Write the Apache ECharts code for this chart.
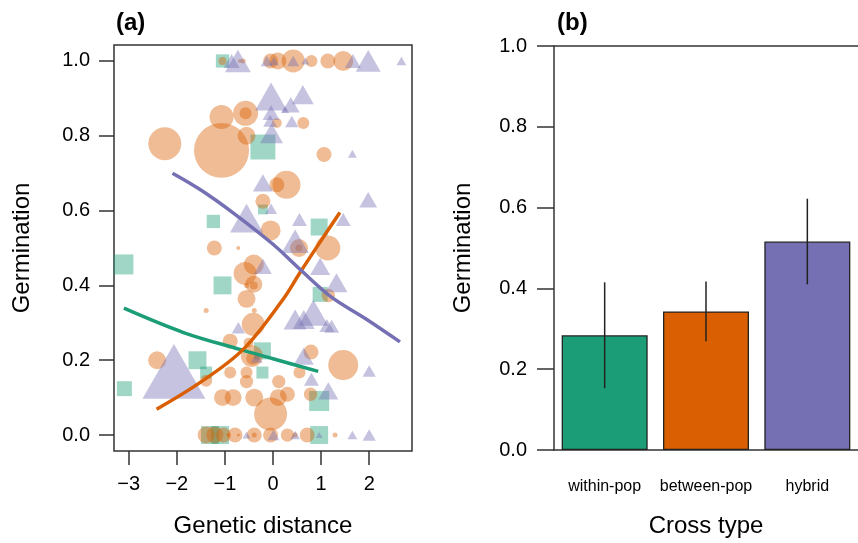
<!DOCTYPE html>
<html>
<head>
<meta charset="utf-8">
<script src="https://cdn.jsdelivr.net/npm/echarts@6/dist/echarts.min.js"></script>
<style>
html, body { margin: 0; padding: 0; background: #fff; }
#chartmain { width: 858px; height: 543px; }
</style>
</head>
<body>
<div id="chartmain"></div>
<script>
// panel (a): crosses by genetic distance, n = number of seeds (sets point size)
var withinX = [-1.05, -0.21, -0.21, -1.24, 0.96, -3.11, -1.05, 0.98, -0.22, -1.57, -1.39, -0.22, -3.09, 0.96, -1.31, -1.10, 0.96];
var withinY = [1.0, 0.77, 0.603, 0.571, 0.556, 0.456, 0.40, 0.376, 0.225, 0.2, 0.167, 0.167, 0.124, 0.091, 0.0, 0.0, 0.0];
var withinN = [11, 39, 6, 11, 18, 25, 20, 14, 18, 20, 9, 9, 14, 25, 20, 20, 20];

var betweenX = [-1.05, -0.69, -0.62, -0.05, 0.10, 0.42, 0.80, 1.14, 1.46,
    -0.57, -0.57, -1.07, 0.08, 0.63, -0.55, -2.25, -1.07, 1.06,
    0.28, 0.08, -0.21, -0.05, 0.54, 0.54, 1.14, -1.22, -0.72, -0.40, -0.58, -0.40, -0.40, -0.55, 1.15, -0.55, -1.39, -0.39,
    -0.41, -0.89, -0.51, -0.44, -0.42, 0.79, -2.41, -1.39, -0.89, -0.55, -0.55, 0.12, 0.55, 1.46, -1.05, -0.83, -0.39, 0.11, 0.30, 0.78, -0.05,
    -1.39, -1.21, -1.03, -0.93, -0.79, -0.72, -0.39, -0.39, -0.05, 0.30, 0.46, 0.71, 1.29];
var betweenY = [1.0, 1.0, 1.0, 1.0, 1.0, 1.0, 1.0, 1.0, 1.0,
    0.86, 0.86, 0.85, 0.834, 0.834, 0.80, 0.779, 0.761, 0.75,
    0.669, 0.669, 0.625, 0.547, 0.50, 0.50, 0.50, 0.50, 0.50, 0.456, 0.432, 0.403, 0.40, 0.40, 0.373, 0.364, 0.333, 0.333,
    0.296, 0.251, 0.247, 0.211, 0.205, 0.222, 0.2, 0.145, 0.167, 0.167, 0.143, 0.143, 0.167, 0.187, 0.10, 0.10, 0.10, 0.10, 0.109, 0.109, 0.056,
    0.0, 0.0, 0.0, 0.0, 0.0, 0.0, 0.0, 0.0, 0.0, 0.0, 0.0, 0.0, 0.0];
var betweenN = [4, 1, 1.6, 14, 18, 33, 9, 14, 25,
    39, 9, 36, 6, 9, 20, 68, 189, 14,
    49, 14, 14, 25, 20, 3, 39, 14, 1, 25, 33, 18, 4, 1.6, 11, 20, 1.6, 1.6,
    33, 14, 6, 30, 11, 14, 20, 9, 9, 9, 11, 11, 9, 56, 18, 18, 20, 18, 14, 11, 68,
    18, 18, 14, 1, 14, 0.6, 14, 1.6, 14, 11, 1.6, 14, 1.6];

var hybridX = [-0.86, -0.73, -0.13, 0.02, 0.42, 0.67, 1.66, 1.98, 2.67,
    -0.04, 0.62, 0.37, 0.25, -0.04, -0.06, 0.39, -0.03, 1.65,
    -0.21, 1.98, -0.04, -0.55, 0.55, 1.46, 0.46, -0.21, 0.98, 1.32,
    0.84, 0.46, 0.64, 1.12, 1.22, -0.72, -0.34, 0.64, -2.06, 0.80, 2.00, 1.15,
    -0.55, 0.01, 0.46, 0.96, 1.65, 2.00];
var hybridY = [1.0, 1.0, 1.0, 1.0, 1.0, 1.0, 1.0, 1.0, 1.0,
    0.905, 0.91, 0.883, 0.87, 0.862, 0.84, 0.838, 0.807, 0.752,
    0.674, 0.629, 0.605, 0.58, 0.576, 0.576, 0.518, 0.451, 0.451, 0.407,
    0.327, 0.309, 0.309, 0.293, 0.291, 0.287, 0.207, 0.211, 0.17, 0.149, 0.171, 0.118,
    0.0, 0.0, 0.0, 0.0, 0.0, 0.0];
var hybridN = [16, 42, 9, 6, 9, 4, 16, 39, 6,
    64, 30, 20, 4, 18, 12, 11, 33, 5,
    25, 20, 9, 68, 14, 14, 46, 20, 25, 30,
    56, 33, 30, 14, 14, 11, 9, 25, 248, 14, 11, 25,
    4, 9, 6, 3, 6, 11];

// fitted curves
var fitWithinX = [-3.10, -1.86, -0.69, 0.00, 0.94];
var fitWithinY = [0.339, 0.274, 0.229, 0.204, 0.170];
var fitBetweenX = [-2.42, -1.52, -0.62, 0.21, 0.56, 1.00, 1.39];
var fitBetweenY = [0.069, 0.140, 0.229, 0.363, 0.434, 0.520, 0.595];
var fitHybridX = [-2.09, -1.50, -0.83, 0.00, 0.56, 1.20, 1.95, 2.64];
var fitHybridY = [0.700, 0.655, 0.594, 0.510, 0.443, 0.370, 0.309, 0.249];

var distTicks = [-3, -2, -1, 0, 1, 2];
var germTicks = [0, 0.2, 0.4, 0.6, 0.8, 1.0];

// panel (b): mean germination by cross type
var crossTypes = ['within-pop', 'between-pop', 'hybrid'];
var meanGerm = [0.284, 0.343, 0.516];
var lowerCI = [0.153, 0.269, 0.410];
var upperCI = [0.415, 0.417, 0.622];

var colors = ['#1b9e77', '#d95f02', '#7570b3'];
var font = 'Liberation Sans, Arial, sans-serif';

function pairs(xs, ys, ns) {
    var out = [];
    for (var i = 0; i < xs.length; i++) {
        out.push(ns ? [xs[i], ys[i], ns[i]] : [xs[i], ys[i]]);
    }
    return out;
}
function dotSize(v) { return 4 * Math.sqrt(v[2]); }
function triSize(v) { var w = 4 * Math.sqrt(v[2]); return [w, w * 0.87]; }
function minus(v) { return String(v).replace('-', '\u2212'); }

var axisText = { color: '#000', fontFamily: font, fontSize: 20 };
var nameText = { color: '#000', fontFamily: font, fontSize: 24 };

function scatter(name, data, symbol, size, color) {
    return {
        name: name, type: 'scatter', xAxisIndex: 0, yAxisIndex: 0,
        data: data, symbol: symbol, symbolSize: size,
        itemStyle: { color: color, opacity: 0.42 },
        emphasis: { disabled: true }, silent: true, z: 2
    };
}
function fitLine(data, color) {
    return {
        type: 'line', xAxisIndex: 0, yAxisIndex: 0, data: data,
        smooth: 0.35, showSymbol: false, symbol: 'none',
        lineStyle: { color: color, width: 3.5 }, silent: true, z: 5
    };
}

var option = {
    animation: false,
    backgroundColor: '#fff',
    title: [
        { text: '(a)', left: 111, top: 6, textStyle: { fontFamily: font, fontSize: 24, fontWeight: 'bold', color: '#000' } },
        { text: '(b)', left: 552, top: 6, textStyle: { fontFamily: font, fontSize: 24, fontWeight: 'bold', color: '#000' } }
    ],
    grid: [
        { left: 114, top: 45, width: 298, height: 407, show: true, borderColor: '#333', borderWidth: 1.5, backgroundColor: 'transparent' },
        { left: 554, top: 46, width: 309, height: 405 }
    ],
    xAxis: [{
        type: 'value', gridIndex: 0, min: -3.306, max: 2.89,
        name: 'Genetic distance', nameLocation: 'middle', nameGap: 63, nameTextStyle: nameText,
        axisLine: { show: false, onZero: false },
        axisTick: { show: true, length: 14, customValues: distTicks, lineStyle: { color: '#333', width: 1.5 } },
        axisLabel: Object.assign({ margin: 23, customValues: distTicks, formatter: minus }, axisText),
        splitLine: { show: false }
    }, {
        type: 'category', gridIndex: 1, data: crossTypes,
        name: 'Cross type', nameLocation: 'middle', nameGap: 64, nameTextStyle: nameText,
        axisLine: { show: true, onZero: false, lineStyle: { color: '#333', width: 1.5 } },
        axisTick: { show: false },
        axisLabel: { margin: 29, interval: 0, color: '#000', fontFamily: font, fontSize: 16 },
        splitLine: { show: false }
    }],
    yAxis: [{
        type: 'value', gridIndex: 0, min: -0.0427, max: 1.0427,
        name: 'Germination', nameLocation: 'middle', nameGap: 80, nameTextStyle: nameText,
        axisLine: { show: false, onZero: false },
        axisTick: { show: true, length: 15, customValues: germTicks, lineStyle: { color: '#333', width: 1.5 } },
        axisLabel: Object.assign({ margin: 24, customValues: germTicks, formatter: function(v) { return v.toFixed(1); } }, axisText),
        splitLine: { show: false }
    }, {
        type: 'value', gridIndex: 1, min: 0, max: 1, interval: 0.2,
        name: 'Germination', nameLocation: 'middle', nameGap: 79, nameTextStyle: nameText,
        axisLine: { show: true, onZero: false, lineStyle: { color: '#333', width: 1.5 } },
        axisTick: { show: true, length: 17, lineStyle: { color: '#333', width: 1.5 } },
        axisLabel: Object.assign({ margin: 27, formatter: function(v) { return v.toFixed(1); } }, axisText),
        splitLine: { show: false }
    }],
    series: [
        scatter('within-pop', pairs(withinX, withinY, withinN), 'rect', dotSize, colors[0]),
        scatter('between-pop', pairs(betweenX, betweenY, betweenN), 'circle', dotSize, colors[1]),
        scatter('hybrid', pairs(hybridX, hybridY, hybridN), 'triangle', triSize, colors[2]),
        fitLine(pairs(fitWithinX, fitWithinY), colors[0]),
        fitLine(pairs(fitBetweenX, fitBetweenY), colors[1]),
        fitLine(pairs(fitHybridX, fitHybridY), colors[2]),
        {
            type: 'bar', xAxisIndex: 1, yAxisIndex: 1, barWidth: 86,
            data: meanGerm.map(function(v, i) {
                return { value: v, itemStyle: { color: colors[i] } };
            }),
            itemStyle: { borderColor: '#222', borderWidth: 1.3 },
            silent: true,
            markLine: {
                silent: true, symbol: 'none', label: { show: false },
                lineStyle: { color: '#333', width: 1.5, type: 'solid' },
                data: [{ yAxis: 1 }]
            }
        },
        {
            type: 'custom', xAxisIndex: 1, yAxisIndex: 1, silent: true, z: 5,
            data: crossTypes.map(function(c, i) { return [i, lowerCI[i], upperCI[i]]; }),
            encode: { x: 0, y: [1, 2] },
            renderItem: function(params, api) {
                var lo = api.coord([api.value(0), api.value(1)]);
                var hi = api.coord([api.value(0), api.value(2)]);
                return {
                    type: 'line',
                    shape: { x1: lo[0], y1: lo[1], x2: hi[0], y2: hi[1] },
                    style: { stroke: '#222', lineWidth: 1.5 }
                };
            }
        }
    ]
};

var myChart = echarts.init(document.getElementById('chartmain'));
myChart.setOption(option);
</script>
</body>
</html>
